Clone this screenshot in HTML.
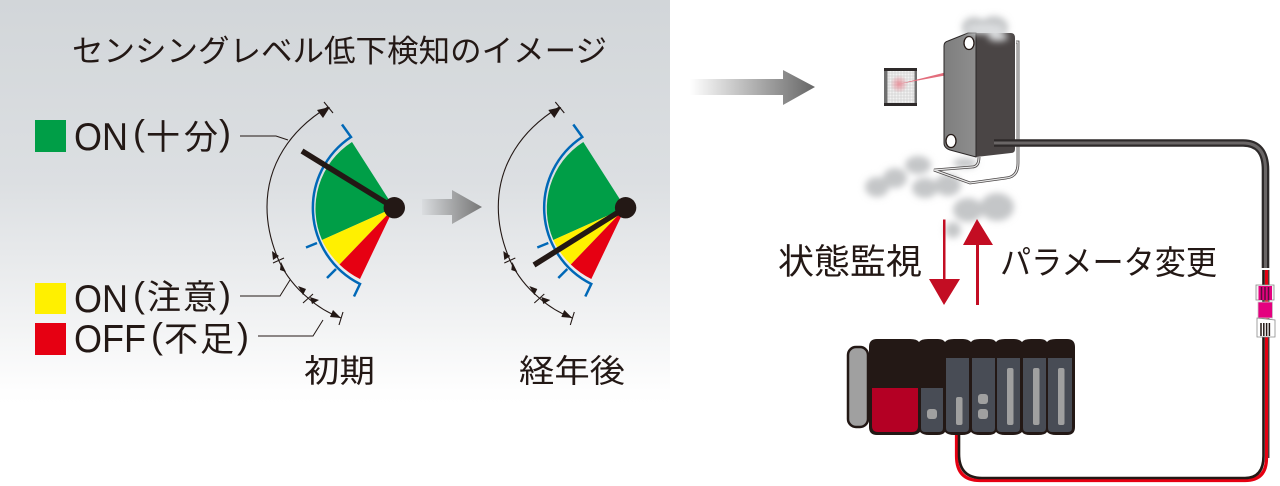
<!DOCTYPE html>
<html lang="ja"><head><meta charset="utf-8">
<style>
html,body{margin:0;padding:0;background:#fff;width:1280px;height:486px;overflow:hidden}
svg{display:block}
text{font-family:"Liberation Sans","Noto Sans CJK JP",sans-serif;fill:#231815}
.k{font-size:34px}
.l{font-size:39px}
.p{font-size:36px}
</style></head>
<body>
<svg width="1280" height="486" viewBox="0 0 1280 486" xmlns="http://www.w3.org/2000/svg">
<defs>
<linearGradient id="bg" x1="0" y1="0" x2="0" y2="1"><stop offset="0" stop-color="#d2d6d9"/><stop offset=".45" stop-color="#dcdfe2"/><stop offset=".8" stop-color="#f2f3f4"/><stop offset=".97" stop-color="#fefefe"/><stop offset="1" stop-color="#fff"/></linearGradient>
<linearGradient id="a1" x1="0" y1="0" x2="1" y2="0"><stop offset="0" stop-color="#666" stop-opacity="0"/><stop offset="1" stop-color="#666"/></linearGradient>
<linearGradient id="a2" x1="0" y1="0" x2="1" y2="0"><stop offset="0" stop-color="#6e6e6e" stop-opacity=".05"/><stop offset="1" stop-color="#777"/></linearGradient>
<linearGradient id="front" x1="0" y1="0" x2="1" y2="0"><stop offset="0" stop-color="#7e7e7e"/><stop offset="1" stop-color="#8e8e8e"/></linearGradient>
<filter id="b4" x="-40%" y="-40%" width="180%" height="180%"><feGaussianBlur stdDeviation="3.500"/></filter>
<radialGradient id="spot"><stop offset="0" stop-color="#e8808c" stop-opacity=".8"/><stop offset="1" stop-color="#e8808c" stop-opacity="0"/></radialGradient>
<pattern id="grid" width="1.500" height="1.500" patternUnits="userSpaceOnUse"><rect width="1.500" height="1.500" fill="#f2f2f2"/><path d="M0 0H1.500M0 0V1.500" stroke="#c4c4c4" stroke-width=".5"/></pattern>
<g id="gauge">
<path d="M394 207.7L352 142A79 79 0 0 0 322 240Z" fill="#009e47"/>
<path d="M394 207.7L322 240A79 79 0 0 0 339.500 264.500Z" fill="#fff000"/>
<path d="M394 207.700L339.500 264.500A79 79 0 0 0 360 279Z" fill="#e60012"/>
<path d="M342 124.500L351 137A85 85 0 0 0 360 284L354 296.500M317 243L306 247.500M336 269L327 278" fill="none" stroke="#0068b7" stroke-width="2.500"/>
<path d="M328 107C290 130 267 165 267 207C267 228 272 245 279 261C286 276 296 288 308 298C318 307 328 313 341 318" fill="none" stroke="#231815" stroke-width="1.100"/>
<path d="M324 102L333 113M273 263L284 258M303 303L313 294M339 325L343 312" stroke="#231815" stroke-width="1.100" fill="none"/>
<path d="M330 107L317 110L323 118ZM273 260L272 251L279 256ZM281 262L286 272L280 270ZM303 295L298 286L306 289ZM310 297L319 300L312 304ZM341 318L330 317L333 310Z" fill="#231815"/>
</g>
</defs>

<rect x="0" y="0" width="670" height="405" fill="url(#bg)"/>

<text x="72" y="62" font-size="31" textLength="535" lengthAdjust="spacingAndGlyphs">センシングレベル低下検知のイメージ</text>

<rect x="35" y="120" width="31" height="32" fill="#009e47"/>
<rect x="35" y="283" width="31" height="31" fill="#fff000"/>
<rect x="35" y="323" width="31" height="32" fill="#e60012"/>

<text x="74" y="150" class="l" textLength="54" lengthAdjust="spacingAndGlyphs">ON</text>
<text x="133" y="145" class="p">(</text>
<text x="146 184" y="149" class="k">十分</text>
<text x="219" y="145" class="p">)</text>

<text x="74" y="312" class="l" textLength="54" lengthAdjust="spacingAndGlyphs">ON</text>
<text x="133" y="307" class="p">(</text>
<text x="147 183" y="309" class="k">注意</text>
<text x="219" y="307" class="p">)</text>

<text x="74" y="352" class="l" textLength="72" lengthAdjust="spacingAndGlyphs">OFF</text>
<text x="151" y="348" class="p">(</text>
<text x="164 200" y="351" class="k">不足</text>
<text x="237" y="348" class="p">)</text>

<text x="304" y="382" font-size="32" textLength="71" lengthAdjust="spacingAndGlyphs">初期</text>
<text x="519" y="382" font-size="32" textLength="106" lengthAdjust="spacingAndGlyphs">経年後</text>

<path d="M240 136H276L288 140M240 296H280L290 280M258 336H313L323 320" fill="none" stroke="#231815" stroke-width="1"/>

<use href="#gauge"/>
<use href="#gauge" transform="translate(231.300 0)"/>

<path d="M302 151L394 207.700" stroke="#231815" stroke-width="5.500"/>
<circle cx="394.300" cy="207.700" r="10.700" fill="#231815"/>
<path d="M534 265L625.500 207.700" stroke="#231815" stroke-width="5.500"/>
<circle cx="625.600" cy="207.700" r="10.700" fill="#231815"/>

<path d="M422 199H452V190L482 207L452 224V215H422Z" fill="url(#a2)"/>
<path d="M690 79H783V70L815 87L783 105V95H690Z" fill="url(#a1)"/>

<!-- smoke back -->
<g fill="#c4c6c8" filter="url(#b4)">
<ellipse cx="974" cy="27" rx="12" ry="10"/><ellipse cx="994" cy="27" rx="14" ry="11"/>
<ellipse cx="877" cy="187" rx="12" ry="10"/><ellipse cx="895" cy="178" rx="12" ry="10"/>
<ellipse cx="918" cy="165" rx="13" ry="9"/><ellipse cx="925" cy="188" rx="13" ry="10"/>
<ellipse cx="948" cy="185" rx="13" ry="11"/><ellipse cx="965" cy="163" rx="12" ry="5"/>
<ellipse cx="968" cy="210" rx="15" ry="12"/><ellipse cx="997" cy="207" rx="17" ry="14"/>
<ellipse cx="953" cy="230" rx="8" ry="8"/>
</g>

<!-- reflector -->
<rect x="884" y="68" width="33" height="38" fill="#6f6f6f"/>
<rect x="884" y="68" width="33" height="3" fill="#2e2a2a"/>
<rect x="884" y="103" width="33" height="3" fill="#2e2a2a"/>
<rect x="887.500" y="71" width="27" height="32" fill="url(#grid)"/>
<circle cx="899" cy="84" r="9" fill="url(#spot)"/>
<path d="M945 72.500L899 84L945 75.500Z" fill="#e36d7c"/>

<!-- bracket -->
<path d="M1016 42H1018V163Q1018 177 1006 178L970 183L934 170L972 167Q979 167 979 157" fill="none" stroke="#4a4646" stroke-width="2.800"/>
<path d="M1016 42H1018V163Q1018 177 1006 178L970 183L934 170L972 167Q979 167 979 157" fill="none" stroke="#e8e8e8" stroke-width="1.200"/>

<!-- sensor -->
<path d="M976 33H1011Q1015 33 1015 38V149Q1015 153 1011 153L976 157Z" fill="#4a4545"/>
<path d="M948 41L968 33H976V157L950 150Q944 148 944 143V46Q944 42 948 41Z" fill="url(#front)"/>
<path d="M948 41L968 33H976V157L950 150Q944 148 944 143V46Q944 42 948 41Z" fill="none" stroke="#2a2626" stroke-width="1"/>
<ellipse cx="969" cy="43" rx="5" ry="6.500" fill="#fff" stroke="#231815" stroke-width="1.300"/>
<ellipse cx="951" cy="141" rx="5" ry="6.500" fill="#fff" stroke="#231815" stroke-width="1.300"/>
<g fill="#dcdee0" filter="url(#b4)"><ellipse cx="985" cy="29" rx="20" ry="5"/><ellipse cx="998" cy="37" rx="10" ry="4"/></g>

<!-- wires -->
<path d="M1266.500 270V458Q1266.500 480.500 1245 480.500H980Q956.500 480.500 956.500 456V432" fill="none" stroke="#e60012" stroke-width="3.200"/>
<path d="M1263.500 270V456Q1263.500 478 1245 478H982Q959 478 959 454V432" fill="none" stroke="#231815" stroke-width="2.600"/>
<path d="M1268.800 270V458" fill="none" stroke="#231815" stroke-width="1.200"/>

<!-- cable -->
<path d="M994 143H1243Q1265.500 143 1265.500 170V268" fill="none" stroke="#2e2a2a" stroke-width="7.600"/>
<path d="M994 143H1243Q1265.500 143 1265.500 170V268" fill="none" stroke="#6a6666" stroke-width="3"/>

<!-- connector -->
<rect x="1256" y="285" width="18" height="15" fill="#f4f4f4" stroke="#8a8a8a" stroke-width=".8"/>
<rect x="1258.500" y="286" width="13.500" height="14" fill="#e4007f"/>
<path d="M1261.500 287V300M1265 287V300M1268.500 287V300" stroke="#56103a" stroke-width="1.500"/>
<rect x="1258" y="302" width="14.500" height="16" fill="#e4007f" stroke="#c9c9c9" stroke-width=".8"/>
<path d="M1257 318L1275 320V337H1257Z" fill="#fff" stroke="#8a8a8a" stroke-width=".8"/>
<path d="M1261 323V336M1263.800 323V336M1266.600 323V336M1269.400 323V336" stroke="#231815" stroke-width="1.500"/>

<!-- red arrows -->
<path d="M943 219.500H945.500V279H960L944 305L929 279H943Z" fill="#c30d23"/>
<path d="M976 305V245H963L977 219L993 245H979V305Z" fill="#c30d23"/>
<text x="778" y="274" font-size="35" textLength="144" lengthAdjust="spacingAndGlyphs">状態監視</text>
<text x="1000" y="274" font-size="33" textLength="217" lengthAdjust="spacingAndGlyphs">パラメータ変更</text>

<!-- PLC -->
<rect x="848" y="347" width="20" height="80" rx="8" fill="#a0a0a0" stroke="#231815" stroke-width="2.500"/>
<path d="M869 347Q869 339 877 339H910Q917 339 919 342Q921 339 928 339H938Q943 339 945 342Q947 339 954 339H963Q968 339 971 342Q973 339 980 339H989Q994 339 996 342Q998 339 1005 339H1014Q1019 339 1022 342Q1024 339 1031 339H1040Q1045 339 1047 342Q1049 339 1056 339H1067Q1075 339 1075 347V427Q1075 435 1067 435H1056Q1050 435 1047 432Q1045 435 1038 435H1030Q1024 435 1022 432Q1019 435 1013 435H1005Q999 435 996 432Q994 435 988 435H980Q974 435 971 432Q968 435 962 435H954Q948 435 945 432Q943 435 937 435H929Q923 435 920 432Q917 435 911 435H877Q869 435 869 427Z" fill="#231815"/>
<path d="M872 388H918V426Q918 432 912 432H878Q872 432 872 426Z" fill="#b40024"/>
<path d="M921 388H943V428Q943 432 939 432H925Q921 432 921 428Z" fill="#484c55"/>
<g fill="#484c55">
<path d="M946 358H969V428Q969 432 965 432H950Q946 432 946 428Z"/>
<path d="M972 358H995V428Q995 432 991 432H976Q972 432 972 428Z"/>
<path d="M997 358H1020V428Q1020 432 1016 432H1001Q997 432 997 428Z"/>
<path d="M1023 358H1046V428Q1046 432 1042 432H1027Q1023 432 1023 428Z"/>
<path d="M1048 358H1072V428Q1072 432 1068 432H1052Q1048 432 1048 428Z"/>
</g>
<g fill="#a0a0a0">
<rect x="927" y="409" width="10" height="10" rx="3"/>
<rect x="956" y="397" width="6.500" height="28" rx="2"/>
<rect x="978" y="394" width="10" height="10" rx="3"/>
<rect x="978" y="409" width="10" height="10" rx="3"/>
<rect x="1007" y="368" width="6.500" height="57" rx="2"/>
<rect x="1033" y="368" width="6.500" height="57" rx="2"/>
<rect x="1058" y="368" width="6.500" height="57" rx="2"/>
</g>
</svg>
</body></html>
